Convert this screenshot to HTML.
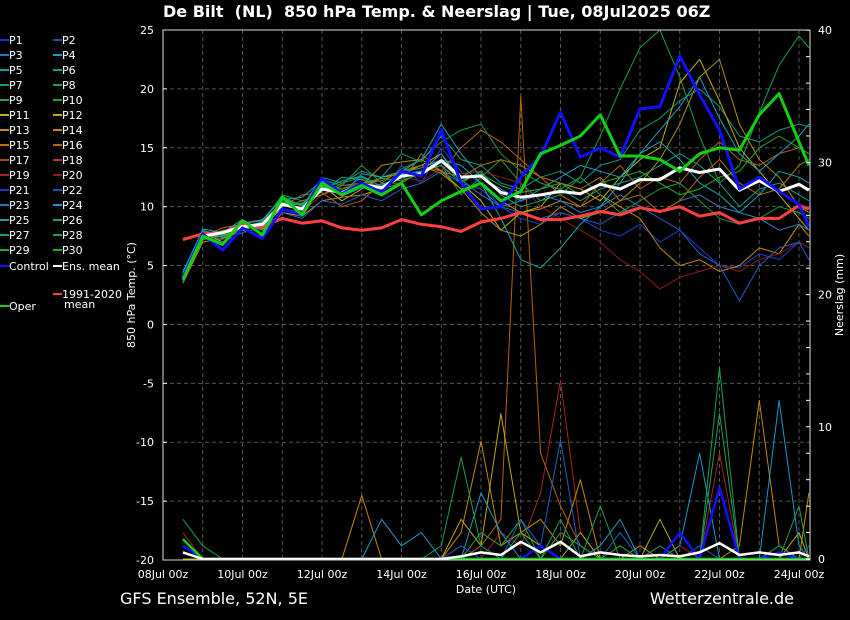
<!DOCTYPE html>
<html><head><meta charset="utf-8"><style>
body{margin:0;background:#000;}
svg{display:block;font-family:"DejaVu Sans","Liberation Sans",sans-serif;}
</style></head><body>
<svg id="chart" width="850" height="620" viewBox="0 0 850 620">
<rect x="0" y="0" width="850" height="620" fill="#000"/>
<text x="163" y="17" fill="#fff" font-size="16" font-weight="bold">De Bilt&#160;&#160;(NL)&#160;&#160;850 hPa Temp. &amp; Neerslag | Tue, 08Jul2025 06Z</text>
<text x="120" y="604" fill="#fff" font-size="16">GFS Ensemble, 52N, 5E</text>
<text x="794" y="604" fill="#fff" font-size="16" text-anchor="end">Wetterzentrale.de</text>
<g id="grid"></g>
<g id="precip"></g>
<g id="temps"></g>
<g id="axes"></g>
<g id="legend"></g>
</svg>
<script>
const xTickLabels=["08Jul 00z","10Jul 00z","12Jul 00z","14Jul 00z","16Jul 00z","18Jul 00z","20Jul 00z","22Jul 00z","24Jul 00z"];
const xTickDays=[0,2,4,6,8,10,12,14,16];
const yTicks=[25,20,15,10,5,0,-5,-10,-15,-20];
const y2Ticks=[40,30,20,10,0];
const days=[0.5,1,1.5,2,2.5,3,3.5,4,4.5,5,5.5,6,6.5,7,7.5,8,8.5,9,9.5,10,10.5,11,11.5,12,12.5,13,13.5,14,14.5,15,15.5,16,16.25];
const ensMean=[4,7.5,7.8,8.3,8.5,10.2,9.8,11.5,11.2,11.9,11.6,12.6,12.8,13.9,12.5,12.6,11.2,10.8,11.0,11.3,11.1,11.9,11.5,12.3,12.3,13.3,12.9,13.2,11.4,12.2,11.3,11.9,11.4];
const climMean=[7.2,7.7,7.8,8.5,8.3,9.0,8.6,8.8,8.2,8.0,8.2,8.9,8.5,8.3,7.9,8.7,9.0,9.5,8.9,8.9,9.2,9.6,9.3,9.9,9.6,10.0,9.2,9.5,8.6,9.0,9.0,10.1,9.8];
const control=[4,7.7,6.3,8.2,7.3,9.8,9.3,12.4,11.1,12.0,11.2,13.0,12.6,16.5,12.0,9.8,10.0,12.5,14.3,18.0,14.2,15.0,14.2,18.3,18.5,22.8,19.5,16.5,11.5,12.5,11.3,10.2,8.3];
const oper=[3.8,7.5,6.8,8.8,7.6,10.8,9.3,12.0,11.0,11.8,11.0,12.0,9.3,10.5,11.3,12.0,10.5,11.3,14.5,15.2,16.0,17.8,14.3,14.3,14.0,13.0,14.5,15.0,14.8,17.8,19.6,15.5,13.5];
const m1=[3.8,7.6,7.2,8.4,8.0,10.5,10.2,12.0,11.5,12.4,11.0,13.5,12.0,15.0,13.0,12.0,10.0,9.0,8.5,9.5,9.0,8.0,7.5,8.5,7.0,8.0,6.5,5.0,4.8,6.0,5.5,7.0,6.5];
const m2=[4.2,8.0,7.5,8.6,8.8,10.9,10.0,12.5,12.0,13.0,12.5,14.5,13.8,16.0,14.0,13.5,12.0,11.5,12.5,13.0,12.0,13.5,14.0,16.5,17.5,19.0,20.0,18.5,16.0,15.5,16.5,17.0,16.8];
const m3=[4.0,7.4,8.0,8.1,8.6,11.0,10.5,11.0,12.0,12.5,11.5,12.0,13.0,13.5,11.0,12.5,14.0,12.0,10.5,11.0,12.5,16.0,20.0,23.5,25.0,21.0,16.0,12.0,13.5,18.0,22.0,24.5,23.5];
const m4=[4.3,7.8,7.0,8.2,8.5,9.8,9.5,11.8,10.5,11.5,12.5,12.8,13.5,14.5,12.0,10.5,8.0,9.5,10.0,12.0,11.5,10.5,12.5,14.0,15.0,20.5,22.5,19.0,15.0,13.0,11.0,9.0,8.0];
const m5=[3.5,7.0,7.3,8.0,7.5,9.5,9.2,10.5,10.8,11.0,11.5,13.0,13.5,12.8,11.5,12.0,10.5,9.5,9.8,10.5,10.0,11.0,10.0,9.0,6.5,5.0,5.5,4.5,5.0,6.5,6.0,8.5,7.5];
const m6=[4.1,7.5,8.2,8.5,8.9,10.0,11.0,11.2,10.0,10.5,12.0,12.0,14.5,13.0,15.0,16.5,15.5,14.0,12.5,11.0,10.0,12.0,13.5,11.5,12.5,12.0,14.0,15.5,14.0,13.5,14.5,15.0,14.5];
const m7=[3.9,7.7,7.6,8.3,8.7,10.3,9.6,11.0,11.5,12.0,11.8,12.5,12.2,13.2,12.8,13.0,12.5,12.0,10.0,9.0,8.0,7.0,5.5,4.5,3.0,4.0,4.5,5.0,4.5,5.5,6.0,7.0,6.5];
const m8=[4.0,7.3,7.0,7.8,8.2,9.5,9.0,10.5,10.2,11.0,10.5,11.5,12.0,13.0,12.0,11.5,10.0,9.5,9.0,9.5,9.0,8.5,9.5,10.0,9.0,8.0,6.0,5.0,2.0,5.0,6.5,7.0,5.5];
const m9=[4.4,8.1,7.8,8.9,8.0,10.6,10.8,12.2,11.0,12.8,12.5,13.0,14.0,17.0,14.5,12.5,11.5,10.5,11.5,12.5,13.5,13.0,12.5,14.5,16.5,18.5,21.0,17.5,14.5,13.0,14.5,16.0,17.0];
const m10=[3.7,7.2,7.5,8.4,8.3,10.0,10.3,11.3,12.5,12.3,11.5,12.8,13.0,13.5,12.0,13.0,11.0,10.0,10.5,11.5,10.5,11.5,12.0,12.5,13.5,14.5,13.5,12.0,10.0,11.5,12.0,11.0,10.5];
const m11=[4.1,7.9,7.7,8.0,8.8,10.8,10.0,12.3,11.8,13.5,12.0,13.2,14.0,15.5,16.5,17.0,14.5,13.0,12.0,11.5,12.5,11.0,9.5,10.5,11.5,12.0,10.5,9.0,8.5,9.0,10.0,9.5,9.0];
const m12=[4.0,7.6,7.4,8.2,8.4,10.1,9.9,11.6,11.1,11.8,13.5,13.8,14.0,13.0,11.5,9.5,8.0,7.5,8.5,10.0,9.0,9.5,10.5,12.0,14.0,17.0,21.0,22.5,17.0,14.0,12.5,10.0,9.5];
const m13=[3.6,7.4,7.9,8.3,8.7,10.4,9.7,11.9,10.9,11.6,11.9,12.4,13.0,14.5,12.3,11.0,10.0,10.5,11.0,10.5,9.5,10.0,11.0,10.0,9.5,10.5,11.0,10.0,9.5,9.0,8.0,8.5,8.0];
const m14=[4.2,7.5,7.6,8.4,8.1,10.0,10.5,11.0,11.8,12.0,12.2,13.0,13.5,13.0,12.5,13.5,14.0,13.5,12.5,12.0,11.5,12.5,10.5,11.0,9.5,10.5,12.5,14.0,12.0,11.0,11.5,13.5,14.0];
const m15=[4.5,7.8,7.4,8.6,8.9,10.7,10.1,11.4,12.2,12.6,11.7,12.9,13.3,14.0,13.5,12.0,9.0,5.5,4.8,6.5,8.5,10.0,12.0,14.5,15.5,14.0,12.0,11.0,9.5,11.0,13.0,12.5,12.0];
const m16=[3.9,7.7,7.6,8.0,8.5,10.4,10.2,11.7,11.5,12.0,12.4,12.2,12.8,13.8,12.2,12.8,11.8,11.2,11.5,12.0,11.0,12.0,12.5,13.0,12.0,11.0,11.5,12.5,13.0,15.0,16.0,15.0,14.5];
const p1=[1,0,0,0,0,0,0,0,0,0,0,0,0,0,0,1,3,35,8,4,1,0,0,0,0,0,0,0,0,0,0,0,0];
const p2=[2,0,0,0,0,0,0,0,0,0,0,0,0,0,0,0,2,1,5,13.5,2,0,0,0,0,1,0,8,0,0,0,0,0];
const p3=[1,0,0,0,0,0,0,0,0,4.8,0,0,0,0,2,8.9,1,2,3,1,6,0,0,1,0,0,0,0,1,12,1,0,5];
const p4=[0,0,0,0,0,0,0,0,0,0,0,0,0,0,3,1,11,2,1,0,2,0,0,0,3,0,0,0,0,0,0,2,0];
const p5=[3,1,0,0,0,0,0,0,0,0,0,0,0,1,7.7,1,0,2,0,3,0,4,0,0,1,0,0,14.5,0,0,1,0,0];
const p6=[1,0,0,0,0,0,0,0,0,0,3,1,2,0,0,5,2,0,1,0,0,1,3,0,0,1,8,0,0,0,12,1,0];
const p7=[1,0,0,0,0,0,0,0,0,0,0,0,0,0,0,2,1,3,0,2,1,0,1,0,0,2,0,11,0,0,0,4,0];
const p8=[0.5,0,0,0,0,0,0,0,0,0,0,0,0,0,1,0,0,3,1,9,0,0,2,0,0,0,1,0,0,0,0,0,1];
const pControl=[1,0,0,0,0,0,0,0,0,0,0,0,0,0,0,0,0,0,1,0,0,0,0,0,0,2,0,5.4,0,0,0.5,0,0];
const pOper=[1.5,0,0,0,0,0,0,0,0,0,0,0,0,0,0,0,0,0,0,0,0,0,0,0,0,0,0,0,0,0,0,0,0];
const pMean=[0.5,0,0,0,0,0,0,0,0,0,0,0,0,0,0.2,0.5,0.3,1.3,0.5,1.3,0.2,0.5,0.3,0.2,0.3,0.2,0.5,1.2,0.3,0.5,0.3,0.5,0.2];

const NS="http://www.w3.org/2000/svg";
const L=163,R=810,T=30,B=560;
const xS=d=>L+d*39.75;
const yS=v=>T+(25-v)*(B-T)/45;
const y2S=v=>559-v*13.22;
function mk(tag,attrs,parent){const e=document.createElementNS(NS,tag);for(const k in attrs)e.setAttribute(k,attrs[k]);parent.appendChild(e);return e;}
const grid=document.getElementById('grid'),axes=document.getElementById('axes'),temps=document.getElementById('temps'),precip=document.getElementById('precip'),legend=document.getElementById('legend');
for(let d=1;d<=16;d++){const g=mk('line',{x1:xS(d),x2:xS(d),y1:T,y2:B,stroke:'#555','stroke-dasharray':'4,3','stroke-width':1},grid);

}
yTicks.forEach(v=>{if(v>-20&&v<25){const g=mk('line',{x1:L,x2:R,y1:yS(v),y2:yS(v),stroke:'#555','stroke-dasharray':'4,3','stroke-width':1},grid);

}
const t=mk('text',{x:154,y:yS(v)+4,fill:'#fff','font-size':11,'text-anchor':'end'},axes);t.textContent=v;


mk('line',{x1:L,x2:L+4,y1:yS(v),y2:yS(v),stroke:'#fff'},axes);});
y2Ticks.forEach(v=>{const t=mk('text',{x:818,y:y2S(v)+4,fill:'#fff','font-size':11},axes);t.textContent=v;

});
for(let v=0;v<=40;v+=2){mk('line',{x1:R-4,x2:R,y1:y2S(v),y2:y2S(v),stroke:'#fff'},axes);}
xTickDays.forEach((d,i)=>{const t=mk('text',{x:xS(d),y:578,fill:'#fff','font-size':11,'text-anchor':'middle'},axes);t.textContent=xTickLabels[i];

});
const fr=mk('rect',{x:L,y:T,width:R-L,height:B-T,fill:'none',stroke:'#ddd','stroke-width':1},axes);


let t=mk('text',{x:486,y:593,fill:'#fff','font-size':11,'text-anchor':'middle'},axes);t.textContent='Date (UTC)';


t=mk('text',{x:0,y:0,fill:'#fff','font-size':11,'text-anchor':'middle',transform:'translate(135,295) rotate(-90)'},axes);t.textContent='850 hPa Temp. (°C)';


t=mk('text',{x:0,y:0,fill:'#fff','font-size':11,'text-anchor':'middle',transform:'translate(843,295) rotate(-90)'},axes);t.textContent='Neerslag (mm)';



function path(vals,sc){return vals.map((v,i)=>(i?'L':'M')+xS(days[i]).toFixed(1)+','+sc(v).toFixed(1)).join('');}
function line(par,vals,sc,color,w,name){const p=mk('path',{d:path(vals,sc),fill:'none',stroke:color,'stroke-width':w,'stroke-linejoin':'round'},par);

}
const precipSeries=[[p1,'#b5650f'],[p2,'#a2281b'],[p3,'#c48a0a'],[p4,'#b8ae12'],[p5,'#1aa04a'],[p6,'#1a9ac8'],[p7,'#20a050'],[p8,'#1f5fc8']];
precipSeries.forEach(s=>line(precip,s[0],y2S,s[1],1,'precip-member-line'));
line(precip,pControl,y2S,'#1010ff',2.5,'precip-control-line');
line(precip,pOper,y2S,'#10d010',2.5,'precip-oper-line');
line(precip,pMean,y2S,'#fff',2.5,'precip-mean-line');
const members=[[m1,'#1f3fcf'],[m2,'#109a80'],[m3,'#18a040'],[m4,'#c0b010'],[m5,'#c08a10'],[m6,'#b5650f'],[m7,'#8b1c1c'],[m8,'#1f5fc8'],[m9,'#1aa0c8'],[m10,'#10a080'],[m11,'#1a9a40'],[m12,'#a89010'],[m13,'#2a7fc8'],[m14,'#b07010'],[m15,'#10a8b0'],[m16,'#22b022']];
members.forEach(s=>line(temps,s[0],yS,s[1],1,'temp-member-line'));
line(temps,climMean,yS,'#ff4040',3,'climate-mean-line');
line(temps,ensMean,yS,'#fff',3,'ens-mean-line');
line(temps,control,yS,'#1010ff',3,'control-line');
line(temps,oper,yS,'#10d010',3,'oper-line');

const legCols=['#2030d0','#1f4fb0','#1a7fc0','#1a9ac8','#10a0a8','#10a080','#10a070','#18a050','#20a840','#10b020','#b8b010','#c0a810','#c09010','#c08a10','#b87010','#b06810','#a84818','#a83c18','#a02020','#901818'];
for(let k=0;k<30;k++){const col=k%2,row=Math.floor(k/2);const y=39+row*15;const c=legCols[(k)%20];const lx=col?53:0;
const ln=mk('line',{x1:lx,x2:lx+9,y1:y+1,y2:y+1,stroke:c,'stroke-width':2},legend);


const tx=mk('text',{x:lx+9,y:y+5,fill:'#fff','font-size':11},legend);tx.textContent='P'+(k+1);

}
const extra=[[0,265,'#1010ff','Control'],[53,265,'#fff','Ens. mean'],[53,293,'#ff4040','1991-2020'],[0,305,'#10d010','Oper']];
extra.forEach(e=>{const ln=mk('line',{x1:e[0],x2:e[0]+9,y1:e[1]+1,y2:e[1]+1,stroke:e[2],'stroke-width':2},legend);


const tx=mk('text',{x:e[0]+9,y:e[1]+5,fill:'#fff','font-size':11},legend);tx.textContent=e[3];

});
t=mk('text',{x:64,y:308,fill:'#fff','font-size':11},legend);t.textContent='mean';


</script>
</body></html>
